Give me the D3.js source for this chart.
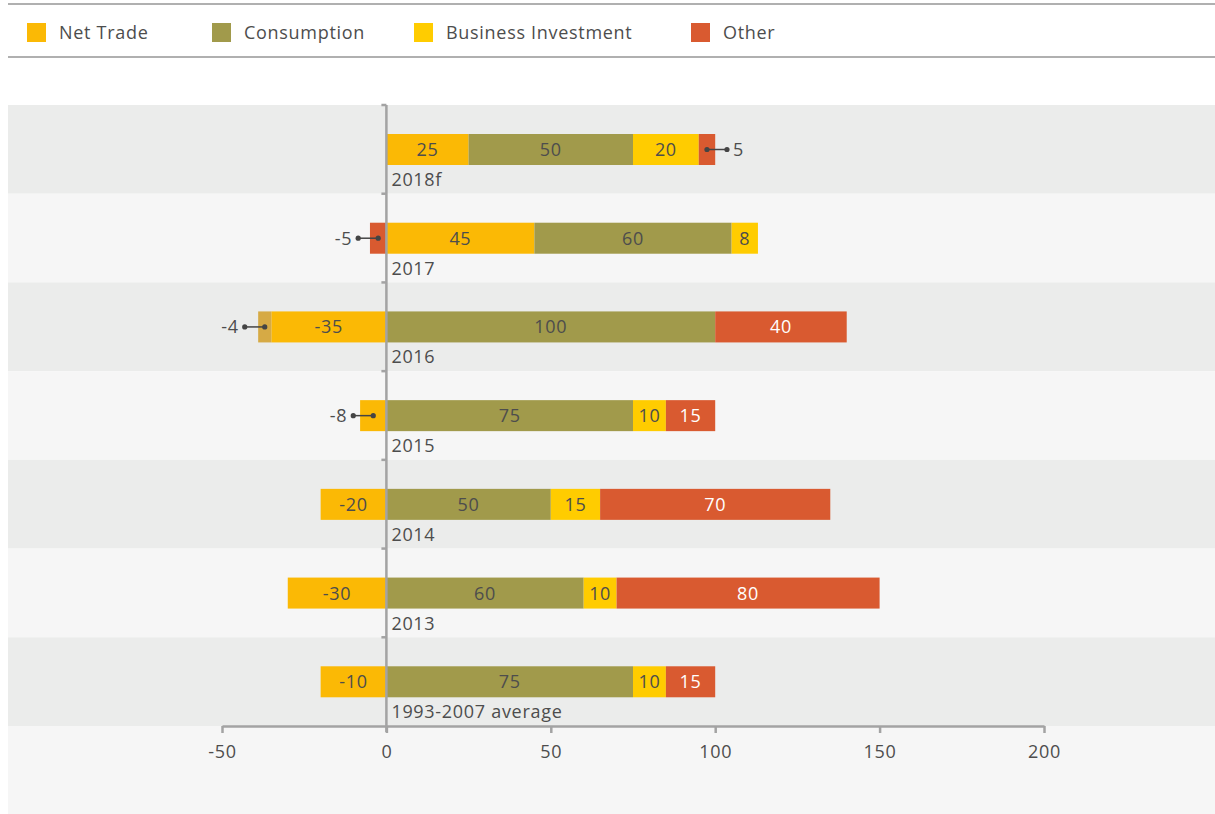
<!DOCTYPE html>
<html>
<head>
    <meta charset="utf-8">
    <script src="https://d3js.org/d3.v7.min.js"></script>
    <style>
        body { margin: 0; background: #fff; font-family: "Open Sans", sans-serif; }
        text { letter-spacing: 0.7px; }
    </style>
</head>
<body>
    <svg id="chart" width="1215" height="814"></svg>
    <script>
        // data
        const categories = ["2018f", "2017", "2016", "2015", "2014", "2013", "1993-2007 average"];
        const seriesNames = ["Net Trade", "Consumption", "Business Investment", "Other"];
        const netTrade    = [25, 45, -35, -8, -20, -30, -20];
        const consumption = [50, 60, 100, 75, 50, 60, 75];
        const business    = [20, 8, 0, 10, 15, 10, 10];
        const other       = [5, -5, 40, 15, 70, 80, 15];
        const adjustment  = [0, 0, -4, 0, 0, 0, 0];   // unlabelled tan piece on 2016
        // printed label differs from bar length on the average row
        const netTradeLabels = ["25", "45", "-35", "-8", "-20", "-30", "-10"];
        const callouts = [["2018f", "other"], ["2017", "other"], ["2016", "adjustment"], ["2015", "netTrade"]];
        const xTicks = [-50, 0, 50, 100, 150, 200];

        const colors = {
            netTrade: "#FBB905", consumption: "#A19A4B", business: "#FFCC00",
            other: "#D95A30", adjustment: "#D6AA45"
        };
        const textColor = "#4d4d4d";
        const axisColor = "#a3a3a3";

        const rows = categories.map((c, i) => ({
            category: c,
            netTrade: netTrade[i], consumption: consumption[i], business: business[i],
            other: other[i], adjustment: adjustment[i]
        }));
        const keys = ["netTrade", "consumption", "business", "other", "adjustment"];

        const svg = d3.select("#chart");

        const x = d3.scaleLinear().domain([-50, 200]).range([222, 1044]);
        const y = d3.scaleBand().domain(categories).range([105, 726]);

        // top rules and legend
        svg.append("line").attr("x1", 8).attr("x2", 1215).attr("y1", 4).attr("y2", 4)
            .attr("stroke", "#b0b0b0").attr("stroke-width", 2);
        svg.append("line").attr("x1", 8).attr("x2", 1215).attr("y1", 57).attr("y2", 57)
            .attr("stroke", "#b0b0b0").attr("stroke-width", 2);

        const legendX = [27, 212, 414, 691];
        const legend = svg.append("g").selectAll("g").data(seriesNames).join("g")
            .attr("transform", (d, i) => `translate(${legendX[i]},23)`);
        legend.append("rect").attr("width", 19).attr("height", 19)
            .attr("fill", (d, i) => colors[keys[i]]);
        legend.append("text").attr("x", 32).attr("y", 15.5)
            .attr("fill", textColor).style("font-size", "18px")
            .text(d => d);

        // bands
        svg.append("g").selectAll("rect").data(categories).join("rect")
            .attr("x", 8).attr("width", 1207)
            .attr("y", d => y(d)).attr("height", y.bandwidth())
            .attr("fill", (d, i) => i % 2 == 0 ? "#EBECEB" : "#F6F6F6");
        svg.append("rect").attr("x", 8).attr("width", 1207)
            .attr("y", 726).attr("height", 88).attr("fill", "#F6F6F6");

        // stacked bars
        const stack = d3.stack().keys(keys).offset(d3.stackOffsetDiverging);
        const layers = stack(rows);
        const barTop = 29, barH = 31;

        const isCallout = (cat, key) => callouts.some(c => c[0] == cat && c[1] == key);

        const g = svg.append("g");
        layers.forEach(layer => {
            const key = layer.key;
            layer.forEach((seg, i) => {
                const v = rows[i][key];
                if (v == 0) return;
                const cat = rows[i].category;
                const x0 = x(Math.min(seg[0], seg[1])), x1 = x(Math.max(seg[0], seg[1]));
                const yy = y(cat) + barTop;
                g.append("rect").attr("x", x0).attr("y", yy)
                    .attr("width", x1 - x0).attr("height", barH)
                    .attr("fill", colors[key]);

                const label = key == "netTrade" ? netTradeLabels[i] : String(v);
                const cy = yy + barH / 2;
                if (isCallout(cat, key)) {
                    const cx = (x0 + x1) / 2;
                    const dir = v < 0 ? -1 : 1;
                    const ox = cx + dir * 20;
                    g.append("line").attr("x1", cx).attr("x2", ox).attr("y1", cy).attr("y2", cy)
                        .attr("stroke", "#444").attr("stroke-width", 1.5);
                    g.append("circle").attr("cx", cx).attr("cy", cy).attr("r", 2.6).attr("fill", "#444");
                    g.append("circle").attr("cx", ox).attr("cy", cy).attr("r", 2.6).attr("fill", "#444");
                    g.append("text").attr("x", ox + dir * 6).attr("y", cy + 6.5)
                        .attr("text-anchor", v < 0 ? "end" : "start")
                        .attr("fill", textColor).style("font-size", "18px")
                        .text(label);
                } else {
                    g.append("text").attr("x", (x0 + x1) / 2).attr("y", cy + 6.5)
                        .attr("text-anchor", "middle")
                        .attr("fill", key == "other" ? "#fff" : textColor)
                        .style("font-size", "18px")
                        .text(label);
                }
            });
        });

        // category labels
        svg.append("g").selectAll("text").data(categories).join("text")
            .attr("x", x(0) + 5).attr("y", d => y(d) + 81)
            .attr("fill", textColor).style("font-size", "18px")
            .text(d => d);

        // x axis
        const xAxis = svg.append("g").attr("transform", "translate(0,726)")
            .call(d3.axisBottom(x).tickValues(xTicks).tickFormat(d => String(d))
                .tickSize(7).tickSizeOuter(0).tickPadding(12));
        xAxis.select(".domain").attr("stroke", axisColor).attr("stroke-width", 2.5);
        xAxis.selectAll(".tick line").attr("stroke", axisColor).attr("stroke-width", 2.5);
        xAxis.selectAll(".tick text").attr("fill", textColor)
            .style("font-size", "18px").style("font-family", "Open Sans, sans-serif");

        // vertical zero line with band ticks
        svg.append("line").attr("x1", x(0)).attr("x2", x(0)).attr("y1", 105).attr("y2", 732)
            .attr("stroke", axisColor).attr("stroke-width", 2.5);
        svg.append("g").selectAll("line").data(categories).join("line")
            .attr("x1", x(0) - 5).attr("x2", x(0))
            .attr("y1", d => y(d)).attr("y2", d => y(d))
            .attr("stroke", axisColor).attr("stroke-width", 2.5);
    </script>
</body>
</html>
